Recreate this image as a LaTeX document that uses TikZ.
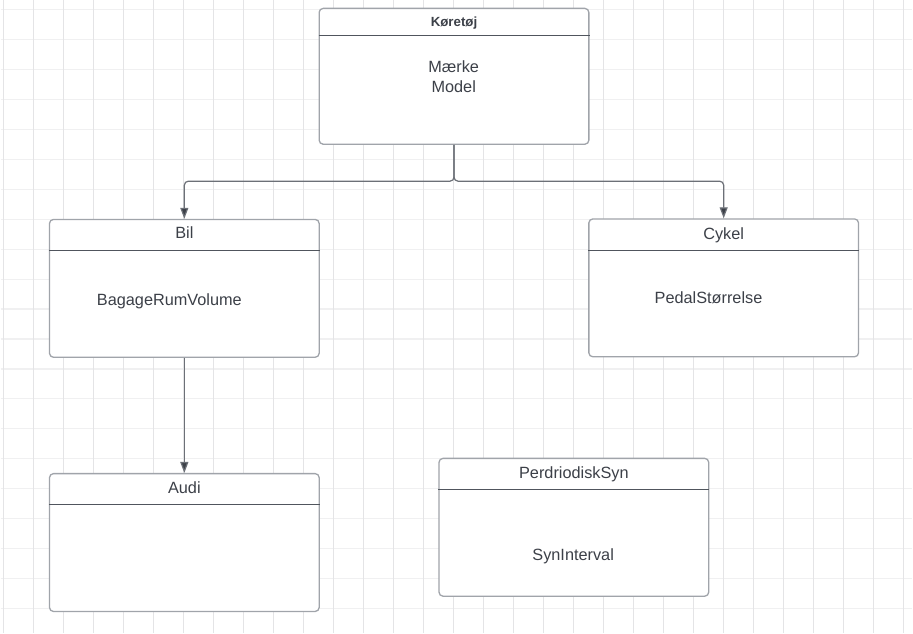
\documentclass[tikz,border=0pt]{standalone}
\usepackage{fontspec}
\setmainfont{Liberation Sans}
\usepackage{xcolor}
\usetikzlibrary{arrows.meta}

\definecolor{gridv}{HTML}{E4E4E6}
\definecolor{gridh}{HTML}{F0F0F1}
\definecolor{boxline}{HTML}{A0A4AA}
\definecolor{sepline}{HTML}{50555D}
\definecolor{txt}{HTML}{3C4048}
\definecolor{conn}{HTML}{6C7077}

\begin{document}
\begin{tikzpicture}[x=1pt,y=-1pt]
			\tikzstyle{every node}+=[inner sep=0pt, text=txt]
			\tikzstyle{classbox}=[draw=boxline, line width=1.3pt, rounded corners=4pt, fill=white, minimum width=270pt, minimum height=138pt]
			\tikzstyle{title}=[anchor=base, font=\fontsize{16.3}{19.5}\selectfont]
			\tikzstyle{attr}=[anchor=base, align=center, font=\fontsize{16.3}{19.7}\selectfont]
			\tikzstyle{sep}=[draw=sepline, line width=0.9pt]
			\tikzstyle{link}=[draw=conn, line width=1.2pt, rounded corners=4pt, -{Triangle[length=11pt,width=8pt,fill=txt]}]
			
			% background and grid
			\fill [white] (0,0) rectangle (913,633);
			\foreach \i in {0,...,20}
				\draw [gridh, line width=1.1pt] (0,9+30*\i) -- (913,9+30*\i);
			\foreach \i in {0,...,30}
				\draw [gridv, line width=0.8pt] (3.3+30.03*\i,0) -- (3.3+30.03*\i,633);
			
			% classes
			\node [classbox, minimum height=136pt] (koretoj) at (454,76) {};
			\node [title, font=\bfseries\fontsize{13.3}{16}\selectfont] at ([yshift=-18.3pt]koretoj.north) {Køretøj};
			\draw [sep] ([yshift=-28pt]koretoj.north west) -- ([yshift=-28pt]koretoj.north east);
			\node [attr] (koretoj-attr) at (453.7,92.3) {Mærke\\Model};
			
			\node [classbox] (bil) at (184,288.3) {};
			\node [title] at ([yshift=-20pt]bil.north) {Bil};
			\draw [sep] ([yshift=-31.7pt]bil.north west) -- ([yshift=-31.7pt]bil.north east);
			\node [attr] (bil-attr) at (169,305) {BagageRumVolume};
			
			\node [classbox] (cykel) at (724,287.8) {};
			\node [title] at ([yshift=-21pt]cykel.north) {Cykel};
			\draw [sep] ([yshift=-32pt]cykel.north west) -- ([yshift=-32pt]cykel.north east);
			\node [attr] (cykel-attr) at (708.8,303.3) {PedalStørrelse};
			
			\node [classbox] (audi) at (184,542.8) {};
			\node [title] at ([yshift=-20.5pt]audi.north) {Audi};
			\draw [sep] ([yshift=-32pt]audi.north west) -- ([yshift=-32pt]audi.north east);
			
			\node [classbox] (syn) at (574,527.5) {};
			\node [title] at ([yshift=-21pt]syn.north) {PerdriodiskSyn};
			\draw [sep] ([yshift=-32pt]syn.north west) -- ([yshift=-32pt]syn.north east);
			\node [attr] (syn-attr) at (573.3,560.6) {SynInterval};
			
			% inheritance
			\coordinate (split) at (454,181);
			\draw [link] (koretoj.south) -- (split) -| (bil.north);
			\draw [link] (koretoj.south) -- (split) -| (cykel.north);
			\draw [link] (bil.south) -- (audi.north);
		\end{tikzpicture}
\end{document}
